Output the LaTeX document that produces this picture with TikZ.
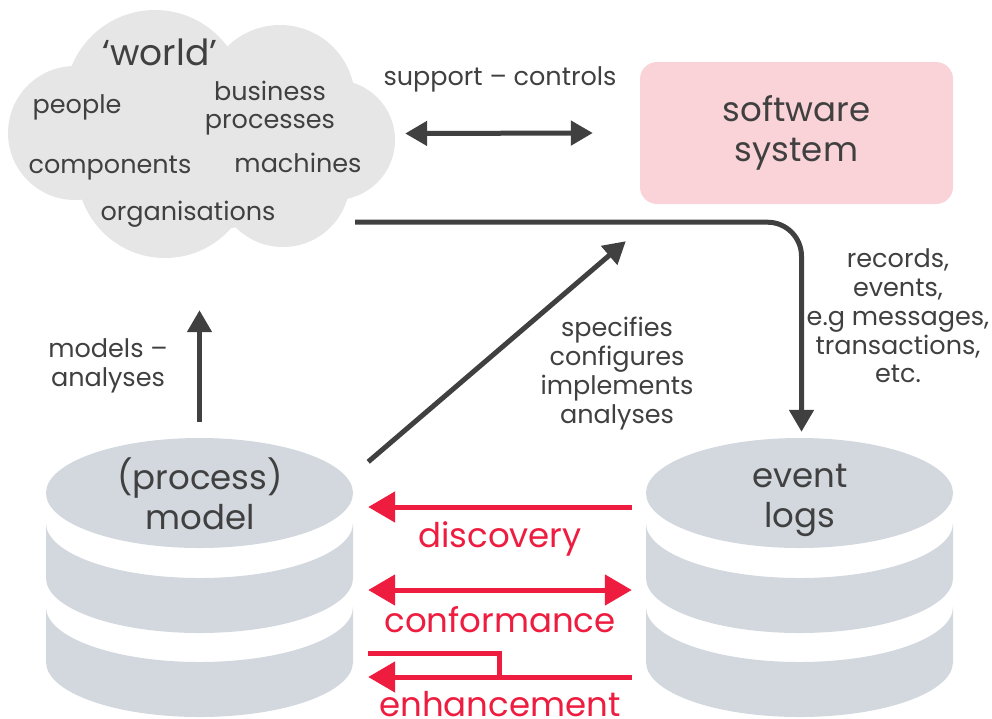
\documentclass[tikz,border=0pt]{standalone}
\usepackage{fontspec}
\setmainfont{Poppins}
\usetikzlibrary{arrows.meta,positioning}

\definecolor{inkgrey}{HTML}{404040}
\definecolor{cloudgrey}{HTML}{E6E6E6}
\definecolor{diskgrey}{HTML}{D2D8DE}
\definecolor{softpink}{HTML}{F9D3D8}
\definecolor{minered}{HTML}{EE1C3E}

\tikzset{
  lbl/.style={text=inkgrey, font=\fontsize{25.5}{28.7}\selectfont, align=center, inner sep=0pt},
  biglbl/.style={text=inkgrey, font=\fontsize{34}{40}\selectfont, align=center, inner sep=0pt},
  redlbl/.style={text=minered, font=\fontsize{34}{40}\selectfont, inner sep=0pt, anchor=base},
  darrow/.style={draw=inkgrey, line width=5pt, -{Triangle[length=22pt,width=24pt]}},
  ddarrow/.style={draw=inkgrey, line width=5pt, {Triangle[length=22pt,width=24pt]}-{Triangle[length=22pt,width=24pt]}},
  rarrow/.style={draw=minered, line width=5pt, -{Triangle[length=27pt,width=30pt]}},
  rrarrow/.style={draw=minered, line width=5pt, {Triangle[length=27pt,width=30pt]}-{Triangle[length=27pt,width=30pt]}},
  hull/.style={minimum width=#1, inner sep=0pt},
  pics/logstack/.style={code={
    \fill[diskgrey] (0,0) ellipse[x radius=153.5, y radius=55];
    \fill[diskgrey] (-153.5,-30) arc[start angle=180, end angle=360, x radius=153.5, y radius=55]
      -- (153.5,-85) arc[start angle=0, end angle=-180, x radius=153.5, y radius=55] -- cycle;
    \fill[diskgrey] (-153.5,-114) arc[start angle=180, end angle=360, x radius=153.5, y radius=55]
      -- (153.5,-169) arc[start angle=0, end angle=-180, x radius=153.5, y radius=55] -- cycle;
  }}
}

\begin{document}
\begin{tikzpicture}[x=1pt, y=1pt]
  \useasboundingbox (0,0) rectangle (992,-718);

  % the world cloud
  \begin{scope}[cloudgrey]
    \fill (155,-100) circle (90);
    \fill (280,-100) circle (75);
    \fill (335,-140) circle (60);
    \fill (283,-180) circle (67);
    \fill (165,-170) circle (88);
    \fill (75,-133) circle (67);
    \fill (200,-140) ellipse[x radius=150, y radius=90];
  \end{scope}
  \node[hull=387pt, minimum height=247pt] (world) at (201.5,-133.5) {};
  \node[biglbl, font=\fontsize{36}{40}\selectfont, anchor=base] (worldtitle) at (160,-65) {‘world’};
  \node[lbl, anchor=base] (people) at (77,-113) {people};
  \node[lbl] (busproc) at (270,-108) {business\\processes};
  \node[lbl, anchor=base] (components) at (110,-173) {components};
  \node[lbl, anchor=base] (machines) at (298,-172) {machines};
  \node[lbl, anchor=base] (organisations) at (188,-220) {organisations};

  % software system
  \node[fill=softpink, rounded corners=17pt, minimum width=313pt, minimum height=142pt,
        biglbl] (softbox) at (796.5,-133) {software\\system};

  % the two stores
  \pic at (199.5,-493) {logstack};
  \pic at (799.5,-493) {logstack};
  \node[hull=307pt, minimum height=279pt] (modeldb) at (199.5,-577.5) {};
  \node[hull=307pt, minimum height=279pt] (logsdb) at (799.5,-577.5) {};
  \node[biglbl] (modeltxt) at (200,-493.5) {(process)\\model};
  \node[biglbl] (logstxt) at (800,-500) {event\\logs};

  % dark connectors
  \draw[ddarrow] ([xshift=10pt]world.east) -- ([xshift=-47pt]softbox.west);
  \node[lbl, anchor=base] (supctl) at (500,-85) {support – controls};
  \draw[darrow, rounded corners=34pt] ([shift={(-40pt,35pt)}]world.south east)
    -| ([shift={(2pt,6pt)}]logsdb.north);
  \node[lbl] (records) at (898,-316) {records,\\events,\\e.g messages,\\transactions,\\etc.};
  \draw[darrow] ([shift={(15pt,-24pt)}]modeldb.north east) -- ([shift={(-14pt,-37pt)}]softbox.south west);
  \node[lbl] (specifies) at (617,-373.5) {specifies\\configures\\implements\\analyses};
  \draw[darrow] ([yshift=16pt]modeldb.north) -- ([xshift=-2pt,yshift=-53pt]world.south);
  \node[lbl] (modana) at (108,-366) {models –\\analyses};

  % red connectors
  \draw[rarrow] ([shift={(-14pt,70.5pt)}]logsdb.west) -- ([shift={(15pt,70.5pt)}]modeldb.east);
  \node[redlbl] (discovery) at (500,-547) {discovery};
  \draw[rrarrow] ([shift={(15pt,-12.5pt)}]modeldb.east) -- ([shift={(-14pt,-12.5pt)}]logsdb.west);
  \node[redlbl] (conformance) at (500,-632) {conformance};
  \draw[rarrow] ([shift={(-14pt,-99.5pt)}]logsdb.west) -- ([shift={(15pt,-99.5pt)}]modeldb.east);
  \draw[draw=minered, line width=5pt] ([shift={(15pt,-75.5pt)}]modeldb.east) -| ([shift={(-146pt,-99.5pt)}]logsdb.west);
  \node[redlbl] (enhancement) at (500,-716) {enhancement};
\end{tikzpicture}
\end{document}
